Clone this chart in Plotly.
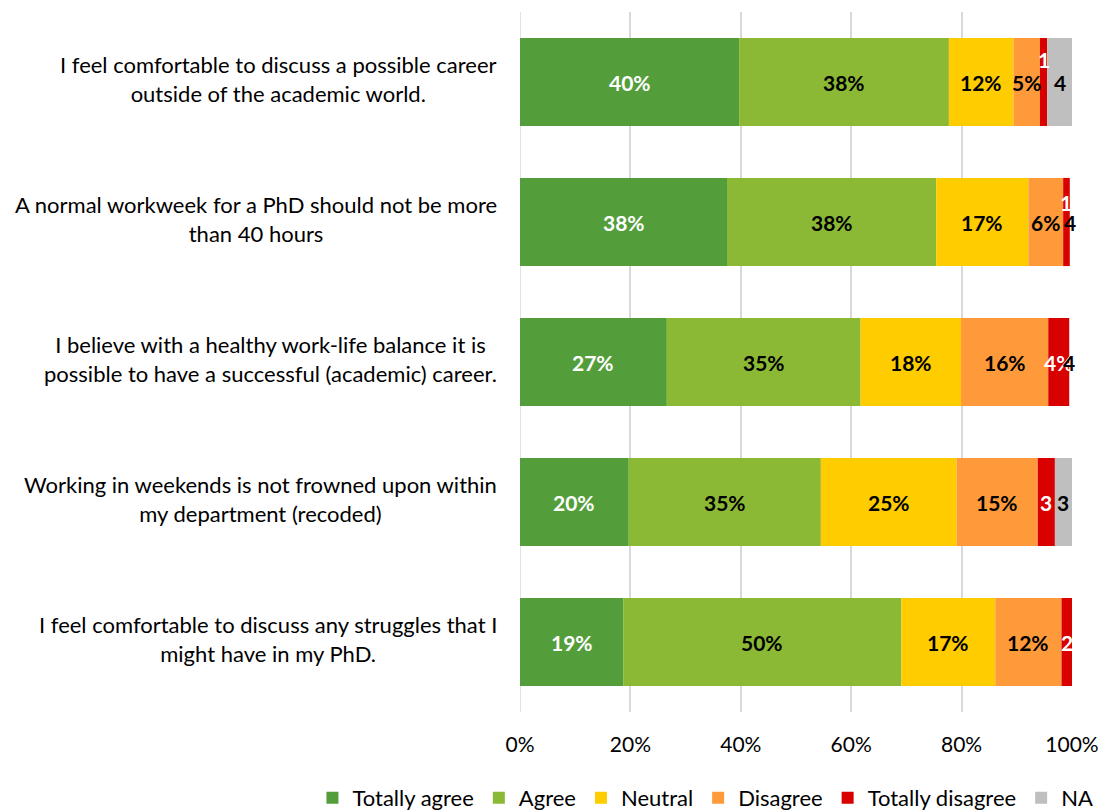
import plotly.graph_objects as go

# Survey statements (top to bottom)
statements = [
    "I feel comfortable to discuss a possible career<br>outside of the academic world.",
    "A normal workweek for a PhD should not be more<br>than 40 hours",
    "I believe with a healthy work-life balance it is<br>possible to have a successful (academic) career.",
    "Working in weekends is not frowned upon within<br>my department (recoded)",
    "I feel comfortable to discuss any struggles that I<br>might have in my PhD.",
]

# Response shares in percent per statement
totally_agree = [39.7, 37.5, 26.6, 19.7, 18.7]
agree = [38.0, 37.9, 35.1, 34.8, 50.4]
neutral = [11.7, 16.7, 18.2, 24.6, 17.0]
disagree = [4.8, 6.3, 15.8, 14.7, 12.0]
totally_disagree = [1.3, 1.2, 3.8, 3.1, 2.0]
not_applicable = [4.5, 0.0, 0.0, 3.1, 0.0]

# Data label texts shown on the segments
totally_agree_labels = ["40%", "38%", "27%", "20%", "19%"]
agree_labels = ["38%", "38%", "35%", "35%", "50%"]
neutral_labels = ["12%", "17%", "18%", "25%", "17%"]
disagree_labels = ["5%", "6%", "16%", "15%", "12%"]
totally_disagree_labels = ["1", "1", "4%", "3", "2"]
not_applicable_labels = ["4", "4", "4", "3", ""]

x_ticks = [0, 20, 40, 60, 80, 100]
x_tick_labels = ["0%", "20%", "40%", "60%", "80%", "100%"]

FONT = "Lato"

series = [
    ("Totally agree", totally_agree, totally_agree_labels, "#539E3B", "white"),
    ("Agree", agree, agree_labels, "#8BB835", "black"),
    ("Neutral", neutral, neutral_labels, "#FFCC00", "black"),
    ("Disagree", disagree, disagree_labels, "#FF9A3A", "black"),
    ("Totally disagree", totally_disagree, totally_disagree_labels, "#D90000", "white"),
    ("NA", not_applicable, not_applicable_labels, "#BFBFBF", "black"),
]

# labels on very thin segments are lifted above the bar centre
label_shift = {("Totally disagree", 0): 23, ("Totally disagree", 1): 20}

fig = go.Figure()
annotations = []
base = [0.0] * len(statements)
for name, vals, labels, color, txtcol in series:
    fig.add_trace(go.Bar(
        name=name, y=statements, x=vals, base=base[:], orientation="h",
        marker=dict(color=color, line=dict(width=0)),
        hoverinfo="skip",
    ))
    for i, (v, lab) in enumerate(zip(vals, labels)):
        if lab:
            annotations.append(dict(
                x=base[i] + v / 2, y=statements[i], xref="x", yref="y",
                text=f"<b>{lab}</b>", showarrow=False,
                font=dict(family=FONT, size=21, color=txtcol),
                yshift=label_shift.get((name, i), 0),
            ))
    base = [b + v for b, v in zip(base, vals)]

# category labels: lines centred, block right-aligned next to the axis
for s in statements:
    annotations.append(dict(
        x=0, y=s, xref="x", yref="y", text=s, showarrow=False,
        xanchor="right", align="center", xshift=-21, yshift=3,
        font=dict(family=FONT, size=22, color="black"),
    ))

fig.update_layout(
    width=1101, height=811,
    margin=dict(l=520, r=29, t=12, b=99, autoexpand=False),
    paper_bgcolor="white", plot_bgcolor="white",
    barmode="overlay", bargap=0.37,
    showlegend=True,
    legend=dict(
        orientation="h", x=-0.376, xanchor="left", y=-0.1229, yanchor="middle",
        font=dict(family=FONT, size=22, color="black"),
        traceorder="normal", itemclick=False, itemdoubleclick=False,
        itemwidth=30, tracegroupgap=0,
    ),
    xaxis=dict(
        range=[0, 100], tickvals=x_ticks, ticktext=x_tick_labels,
        showgrid=True, gridcolor="#D9D9D9", gridwidth=1.5,
        zeroline=False, showline=False, ticks="",
        tickfont=dict(family=FONT, size=21, color="black"),
        ticklabelstandoff=18,
    ),
    yaxis=dict(
        categoryorder="array", categoryarray=statements,
        autorange="reversed", showticklabels=False, showgrid=False,
        zeroline=False, showline=False, ticks="",
    ),
    annotations=annotations,
)
# gridline at 0% drawn like the others
fig.add_shape(type="line", xref="x", yref="paper", x0=0, x1=0, y0=0, y1=1,
              line=dict(color="#D9D9D9", width=1.5), layer="below")

fig.write_html("out.html")
